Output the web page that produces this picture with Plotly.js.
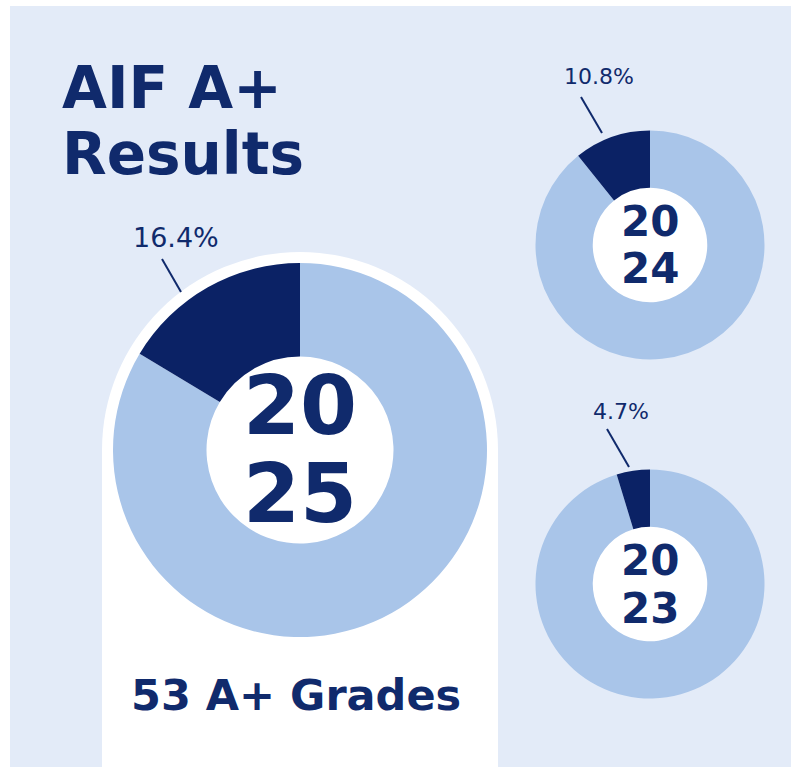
<!DOCTYPE html>
<html>
<head>
<meta charset="utf-8">
<script src="https://cdn.plot.ly/plotly-3.0.1.min.js"></script>
<style>html,body{margin:0;padding:0;background:#ffffff;}#chart{width:798px;height:767px;}</style>
</head>
<body>
<div id="chart"></div>
<script>
// ---- data ----
const years = ['2025', '2024', '2023'];
const aPlusShare = [16.4, 10.8, 4.7];          // % of grades that were A+
const labels = ['Other', 'A+'];
const shareLabels = ['16.4%', '10.8%', '4.7%'];
const titleLines = ['AIF A+', 'Results'];
const footerText = '53 A+ Grades';

// ---- style / geometry ----
const W = 798, H = 767;
const NAVY = '#0b2265', LIGHT = '#a9c5e9', BG = '#e3ebf8', TEXT = '#102a6c';
const BOLD = 'DejaVu Sans', REG = 'DejaVu Sans';
const HOLE = 0.5;
const geo = [
  {cx: 300, cy: 450, r: 187, num: 82, numGap: 44, lab: [176, 238], labSize: 27, line: [[162, 259], [181, 292]]},
  {cx: 650, cy: 245, r: 114.5, num: 42, numGap: 23.5, lab: [599, 77], labSize: 22, line: [[581, 97], [602, 133]]},
  {cx: 650, cy: 584, r: 114.5, num: 42, numGap: 24, lab: [621, 411], labSize: 22, line: [[607, 429], [629, 467]]}
];
const px = x => x / W;
const py = y => 1 - y / H;

const traces = years.map((yr, i) => {
  const g = geo[i];
  return {
    type: 'pie',
    values: [100 - aPlusShare[i], aPlusShare[i]],
    labels: labels,
    sort: false,
    direction: 'clockwise',
    rotation: 0,
    hole: HOLE,
    textinfo: 'none',
    hoverinfo: 'label+percent',
    showlegend: false,
    marker: {colors: [LIGHT, NAVY], line: {width: 0}},
    domain: {x: [px(g.cx - g.r), px(g.cx + g.r)], y: [py(g.cy + g.r), py(g.cy - g.r)]}
  };
});

const annotations = [];
const shapes = [
  {type: 'rect', xref: 'paper', yref: 'paper', x0: px(10), x1: px(791), y0: py(767), y1: py(6),
   fillcolor: BG, line: {width: 0}, layer: 'below'},
  {type: 'circle', xref: 'paper', yref: 'paper', x0: px(102), x1: px(498), y0: py(648), y1: py(252),
   fillcolor: '#ffffff', line: {width: 0}, layer: 'below'},
  {type: 'rect', xref: 'paper', yref: 'paper', x0: px(102), x1: px(498), y0: py(767), y1: py(450),
   fillcolor: '#ffffff', line: {width: 0}, layer: 'below'}
];

years.forEach((yr, i) => {
  const g = geo[i];
  const hr = g.r * HOLE + 1;
  shapes.push({type: 'circle', xref: 'paper', yref: 'paper',
    x0: px(g.cx - hr), x1: px(g.cx + hr), y0: py(g.cy + hr), y1: py(g.cy - hr),
    fillcolor: '#ffffff', line: {width: 0}, layer: 'below'});
  [yr.slice(0, 2), yr.slice(2)].forEach((part, k) => {
    annotations.push({
      xref: 'paper', yref: 'paper', x: px(g.cx), y: py(g.cy + (k === 0 ? -g.numGap : g.numGap)),
      text: part, showarrow: false, xanchor: 'center', yanchor: 'middle',
      font: {family: BOLD, size: g.num, color: TEXT, weight: 700}
    });
  });
  annotations.push({
    xref: 'paper', yref: 'paper', x: px(g.lab[0]), y: py(g.lab[1]),
    text: shareLabels[i], showarrow: false, xanchor: 'center', yanchor: 'middle',
    font: {family: REG, size: g.labSize, color: TEXT}
  });
  shapes.push({type: 'line', xref: 'paper', yref: 'paper',
    x0: px(g.line[0][0]), y0: py(g.line[0][1]), x1: px(g.line[1][0]), y1: py(g.line[1][1]),
    line: {color: TEXT, width: 2}});
});

const titleY = [88, 154];
titleLines.forEach((t, k) => {
  annotations.push({
    xref: 'paper', yref: 'paper', x: px(60), y: py(titleY[k]),
    text: t, showarrow: false, xanchor: 'left', yanchor: 'middle',
    font: {family: BOLD, size: 58, color: TEXT, weight: 700}
  });
});
annotations.push({
  xref: 'paper', yref: 'paper', x: px(296), y: py(695),
  text: footerText, showarrow: false, xanchor: 'center', yanchor: 'middle',
  font: {family: BOLD, size: 43, color: TEXT, weight: 700}
});

const layout = {
  width: W, height: H,
  margin: {l: 0, r: 0, t: 0, b: 0},
  paper_bgcolor: '#ffffff',
  showlegend: false,
  shapes: shapes,
  annotations: annotations
};

Plotly.newPlot('chart', traces, layout, {displayModeBar: false, staticPlot: true});
</script>
</body>
</html>
